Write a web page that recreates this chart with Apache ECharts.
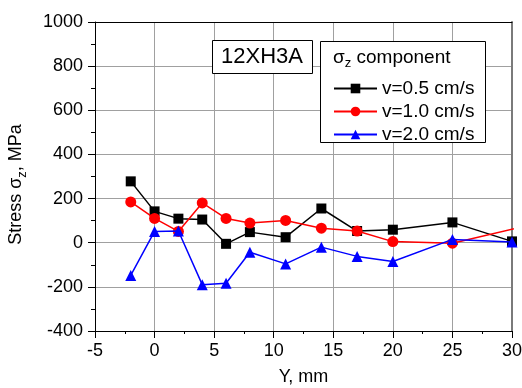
<!DOCTYPE html>
<html>
<head>
<meta charset="utf-8">
<script src="https://cdn.jsdelivr.net/npm/echarts@6/dist/echarts.min.js"></script>
<style>html,body{margin:0;padding:0;background:#fff}#c{width:522px;height:388px}</style>
</head>
<body>
<div id="c"></div>
<script>
// Data
var seriesNames = ['v=0.5 cm/s', 'v=1.0 cm/s', 'v=2.0 cm/s'];
var xBlack = [-2, 0, 2, 4, 6, 8, 11, 14, 17, 20, 25, 30, 35];
var yBlack = [278, 142, 109, 105, -5, 48, 25, 155, 53, 59, 92, 6, 30];
var xRed = [-2, 0, 2, 4, 6, 8, 11, 14, 17, 20, 25, 35];
var yRed = [185, 110, 51, 180, 110, 89, 101, 66, 53, 5, -2, 125];
var xBlue = [-2, 0, 2, 4, 6, 8, 11, 14, 17, 20, 25, 30, 35];
var yBlue = [-148, 51, 53, -190, -184, -43, -96, -20, -62, -85, 15, 3, -70];
var xTicks = [-5, 0, 5, 10, 15, 20, 25, 30];
var yTicks = [-400, -200, 0, 200, 400, 600, 800, 1000];

function pairs(xs, ys) { return xs.map(function (x, i) { return [x, ys[i]]; }); }

var FONT = 'Liberation Sans, Arial, sans-serif';
var chart = echarts.init(document.getElementById('c'), null, { renderer: 'canvas' });
var xMin = xTicks[0], xMax = xTicks[xTicks.length - 1];
var yMin = yTicks[0], yMax = yTicks[yTicks.length - 1];
function plain(v) { return String(v); }

chart.setOption({
  animation: false,
  backgroundColor: '#fff',
  textStyle: { fontFamily: FONT },
  grid: { left: 95, right: 10, top: 22, bottom: 57, containLabel: false, outerBoundsMode: 'none' },
  xAxis: [{
    type: 'value', min: xMin, max: xMax, interval: 5, position: 'bottom',
    name: 'Y, mm', nameLocation: 'middle', nameGap: 37,
    nameTextStyle: { fontSize: 18, color: '#000', fontFamily: FONT },
    axisLine: { show: true, onZero: false, lineStyle: { color: '#000', width: 1 } },
    axisTick: { show: true, inside: false, length: 7, lineStyle: { color: '#000', width: 1 } },
    minorTick: { show: true, splitNumber: 2, length: 3, lineStyle: { color: '#000', width: 1 } },
    axisLabel: { fontSize: 18, color: '#000', margin: 11, fontFamily: FONT, formatter: plain },
    splitLine: { show: true, lineStyle: { color: '#a0a0a0', width: 1 } }
  }, {
    type: 'value', min: xMin, max: xMax, position: 'top',
    axisLine: { show: true, onZero: false, lineStyle: { color: '#000', width: 1 } },
    axisTick: { show: false }, axisLabel: { show: false }, splitLine: { show: false }
  }],
  yAxis: [{
    type: 'value', min: yMin, max: yMax, interval: 200, position: 'left',
    name: '{a|Stress σ}{b|z}{a|, MPa}', nameLocation: 'middle', nameGap: 66, nameRotate: 90,
    nameTextStyle: {
      color: '#000', fontFamily: FONT, padding: [0, 0, 0, -16],
      rich: {
        a: { fontSize: 18, lineHeight: 18, fontFamily: FONT, color: '#000' },
        b: { fontSize: 13, lineHeight: 25, verticalAlign: 'bottom', fontFamily: FONT, color: '#000' }
      }
    },
    axisLine: { show: true, onZero: false, lineStyle: { color: '#000', width: 1 } },
    axisTick: { show: true, inside: false, length: 7, lineStyle: { color: '#000', width: 1 } },
    minorTick: { show: true, splitNumber: 2, length: 4, lineStyle: { color: '#000', width: 1 } },
    axisLabel: { fontSize: 18, color: '#000', margin: 12, fontFamily: FONT, formatter: plain },
    splitLine: { show: true, lineStyle: { color: '#a0a0a0', width: 1 } }
  }, {
    type: 'value', min: yMin, max: yMax, position: 'right',
    axisLine: { show: true, onZero: false, lineStyle: { color: '#7a7a7a', width: 2 } },
    axisTick: { show: false }, axisLabel: { show: false }, splitLine: { show: false }
  }],
  legend: {
    orient: 'vertical', left: 333, top: 79, z: 20, padding: 0,
    itemWidth: 43, itemHeight: 12, itemGap: 4,
    textStyle: { fontSize: 19, lineHeight: 18, color: '#000', fontFamily: FONT },
    data: seriesNames
  },
  graphic: [
    { type: 'rect', left: 320, top: 41, shape: { width: 165, height: 101 }, style: { fill: '#fff', stroke: '#000', lineWidth: 1 }, z: 5 },
    { type: 'text', left: 333, top: 48, z: 6,
      style: { text: '{a|σ}{b|z}{a| component}', fill: '#000',
        rich: {
          a: { fontSize: 19, lineHeight: 18, fontFamily: FONT, fill: '#000' },
          b: { fontSize: 13, lineHeight: 25, verticalAlign: 'bottom', fontFamily: FONT, fill: '#000' }
        } } },
    { type: 'rect', left: 212, top: 40, shape: { width: 100, height: 33 }, style: { fill: '#fff', stroke: '#000', lineWidth: 1 }, z: 5 },
    { type: 'text', left: 221, top: 46, z: 6, style: { text: '12XH3A', font: '22px ' + FONT, fill: '#000' } }
  ],
  series: [{
    name: seriesNames[0], type: 'line', data: pairs(xBlack, yBlack), clip: false,
    symbol: 'rect', symbolSize: 10, z: 10,
    lineStyle: { color: '#000', width: 1.5 }, itemStyle: { color: '#000' }
  }, {
    name: seriesNames[1], type: 'line', data: pairs(xRed, yRed), clip: false,
    symbol: 'circle', symbolSize: 11, z: 11,
    lineStyle: { color: '#ff0000', width: 1.5 }, itemStyle: { color: '#ff0000' }
  }, {
    name: seriesNames[2], type: 'line', data: pairs(xBlue, yBlue), clip: false,
    symbol: 'triangle', symbolSize: 11, z: 12,
    lineStyle: { color: '#0000ff', width: 1.5 }, itemStyle: { color: '#0000ff' }
  }]
});
</script>
</body>
</html>
